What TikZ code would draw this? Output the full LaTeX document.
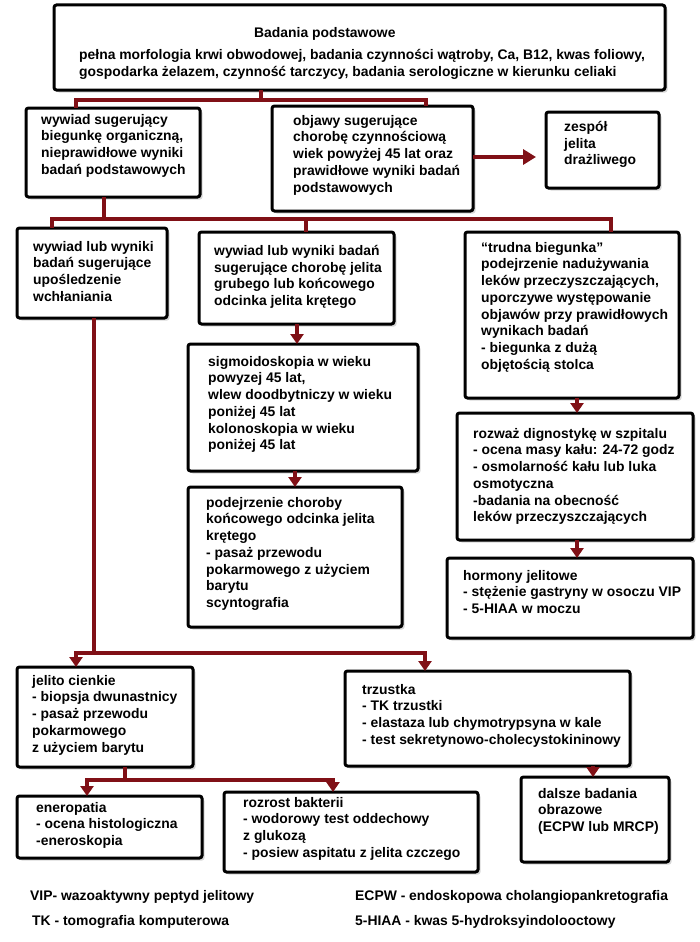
\documentclass[tikz,border=0pt]{standalone}
\usepackage{fontspec}
\setmainfont{Liberation Sans}
\usetikzlibrary{arrows.meta,shadows}
\definecolor{conred}{RGB}{128,16,22}
\begin{document}
\begin{tikzpicture}[x=1pt,y=-1pt,
  box/.style={draw=black, line width=3pt, rounded corners=2.5pt, fill=white,
    inner sep=0pt, outer sep=0pt, anchor=north west,
    drop shadow={shadow xshift=2.5pt, shadow yshift=-2.5pt, opacity=0.3}},
  txt/.style={anchor=north west, inner sep=0pt, align=left,
    font=\bfseries\fontsize{13.9}{16.7}\selectfont, execute at begin node=\strut},
  leg/.style={txt},
  conn/.style={draw=conred, line width=4pt},
  tipped/.style={conn, -{Triangle[length=10pt,width=13pt]}},
  bothtip/.style={conn, {Triangle[length=10pt,width=13pt]}-{Triangle[length=10pt,width=13pt]}},
  bigtip/.style={conn, -{Triangle[length=13pt,width=15pt]}}
]
\useasboundingbox (0,0) rectangle (700,942);
\fill[white] (0,0) rectangle (700,942);

% boxes
\node[box, minimum width=611pt, minimum height=85pt] (b1) at (54,5) {};
\node[box, minimum width=174pt, minimum height=89pt] (b2) at (26,108) {};
\node[box, minimum width=201pt, minimum height=105pt] (b3) at (272,106) {};
\node[box, minimum width=113pt, minimum height=76pt] (b4) at (546,112) {};
\node[box, minimum width=150pt, minimum height=90pt] (b5) at (17,228) {};
\node[box, minimum width=195pt, minimum height=92pt] (b6) at (199,232) {};
\node[box, minimum width=214pt, minimum height=166pt] (b7) at (465,232) {};
\node[box, minimum width=230pt, minimum height=127pt] (b8) at (188,344) {};
\node[box, minimum width=214pt, minimum height=140pt] (b9) at (188,487) {};
\node[box, minimum width=236pt, minimum height=127pt] (b10) at (457,413) {};
\node[box, minimum width=246pt, minimum height=80pt] (b11) at (447,558) {};
\node[box, minimum width=176pt, minimum height=100pt] (b12) at (17,667) {};
\node[box, minimum width=285pt, minimum height=95pt] (b13) at (345,671) {};
\node[box, minimum width=185pt, minimum height=62pt] (b14) at (17,796) {};
\node[box, minimum width=254pt, minimum height=80pt] (b15) at (224,792) {};
\node[box, minimum width=148pt, minimum height=85pt] (b16) at (521,777) {};

% texts
\node[txt] (t1a) at (254,26) {Badania podstawowe};
\node[txt] (t1b) at (79,49) {pełna morfologia krwi obwodowej, badania czynności wątroby, Ca, B12, kwas foliowy,\\gospodarka żelazem, czynność tarczycy, badania serologiczne w kierunku celiaki};
\node[txt] (t2) at (41,114) {wywiad sugerujący\\biegunkę organiczną,\\nieprawidłowe wyniki\\badań podstawowych};
\node[txt] (t3) at (293,115) {objawy sugerujące\\chorobę czynnościową\\wiek powyżej 45 lat oraz\\prawidłowe wyniki badań\\podstawowych};
\node[txt] (t4) at (564,121) {zespół\\jelita\\drażliwego};
\node[txt] (t5) at (33,241) {wywiad lub wyniki\\badań sugerujące\\upośledzenie\\wchłaniania};
\node[txt] (t6) at (214,245) {wywiad lub wyniki badań\\sugerujące chorobę jelita\\grubego lub końcowego\\odcinka jelita krętego};
\node[txt] (t7) at (481,242) {“trudna biegunka”\\podejrzenie nadużywania\\leków przeczyszczających,\\uporczywe występowanie\\objawów przy prawidłowych\\wynikach badań\\- biegunka z dużą\\objętością stolca};
\node[txt] (t8) at (208,356) {sigmoidoskopia w wieku\\powyzej 45 lat,\\wlew doodbytniczy w wieku\\poniżej 45 lat\\kolonoskopia w wieku\\poniżej 45 lat};
\node[txt] (t9) at (206,497) {podejrzenie choroby\\końcowego odcinka jelita\\krętego\\- pasaż przewodu\\pokarmowego z użyciem\\barytu\\scyntografia};
\node[txt] (t10) at (473,428) {rozważ dignostykę w szpitalu\\- ocena masy kału: 24-72 godz\\- osmolarność kału lub luka\\osmotyczna\\-badania na obecność\\leków przeczyszczających};
\node[txt] (t11) at (463,570) {hormony jelitowe\\- stężenie gastryny w osoczu VIP\\- 5-HIAA w moczu};
\node[txt] (t12) at (32,675) {jelito cienkie\\- biopsja dwunastnicy\\- pasaż przewodu\\pokarmowego\\z użyciem barytu};
\node[txt] (t13) at (362,684) {trzustka\\- TK trzustki\\- elastaza lub chymotrypsyna w kale\\- test sekretynowo-cholecystokininowy};
\node[txt] (t14) at (36,802) {eneropatia\\- ocena histologiczna\\-eneroskopia};
\node[txt] (t15) at (243,797) {rozrost bakterii\\- wodorowy test oddechowy\\z glukozą\\- posiew aspitatu z jelita czczego};
\node[txt] (t16) at (538,788) {dalsze badania\\obrazowe\\(ECPW lub MRCP)};

% legend
\node[leg] (l1) at (30,889) {VIP- wazoaktywny peptyd jelitowy};
\node[leg] (l2) at (32,914) {TK - tomografia komputerowa};
\node[leg] (l3) at (355,889) {ECPW - endoskopowa cholangiopankretografia};
\node[leg] (l4) at (355,914) {5-HIAA - kwas 5-hydroksyindolooctowy};

% connector coordinates
\coordinate (j1) at (261,100);
\coordinate (p2) at (76,100);
\coordinate (p3) at (426,100);
\coordinate (j2) at (104,219);
\coordinate (p5) at (52,219);
\coordinate (p6) at (306,219);
\coordinate (p7) at (611,219);
\coordinate (k3) at (500,157);
\coordinate (k6) at (297,330);
\coordinate (k8) at (295,480);
\coordinate (k7) at (577,405);
\coordinate (k10) at (577,550);
\coordinate (j5) at (94,653);
\coordinate (p12) at (76,653);
\coordinate (p13) at (425,653);
\coordinate (j12) at (125,780);
\coordinate (p14) at (87,780);
\coordinate (p15) at (333,780);
\coordinate (k13) at (593,770);

% connectors
\draw[conn] (j1 |- b1.south) -- (j1);
\draw[conn] (p2 |- b2.north) -- (p2) -- (p3) -- (p3 |- b3.north);
\draw[bigtip] (k3 -| b3.east) -- ([xshift=-10pt]k3 -| b4.west);
\draw[conn] (j2 |- b2.south) -- (j2);
\draw[conn] (p5 |- b5.north) -- (p5) -- (p7) -- (p7 |- b7.north);
\draw[conn] (p6) -- (p6 |- b6.north);
\draw[tipped] (k6 |- b6.south) -- (k6 |- b8.north);
\draw[tipped] (k8 |- b8.south) -- (k8 |- b9.north);
\draw[tipped] (k7 |- b7.south) -- (k7 |- b10.north);
\draw[tipped] (k10 |- b10.south) -- (k10 |- b11.north);
\draw[conn] (j5 |- b5.south) -- (j5);
\draw[bothtip] (p12 |- b12.north) -- (p12) -- (p13) -- (p13 |- b13.north);
\draw[conn] (j12 |- b12.south) -- (j12);
\draw[bothtip] (p14 |- b14.north) -- (p14) -- (p15) -- (p15 |- b15.north);
\draw[tipped] (k13 |- b13.south) -- (k13 |- b16.north);
\end{tikzpicture}
\end{document}
